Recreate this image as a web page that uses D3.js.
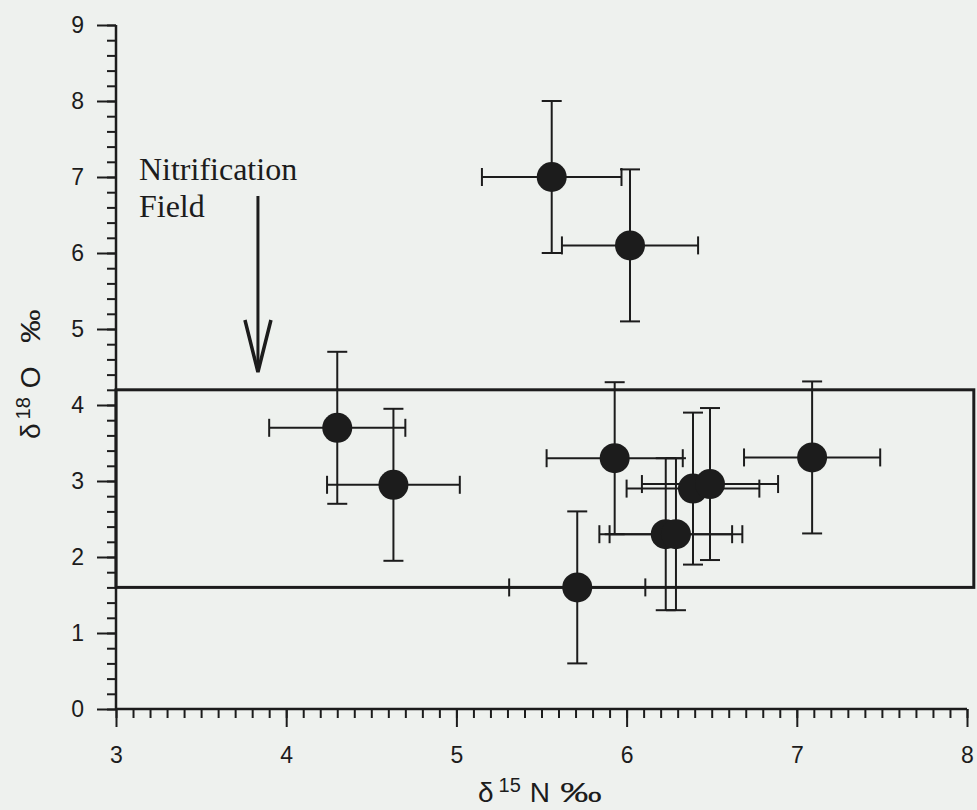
<!DOCTYPE html>
<html>
<head>
<meta charset="utf-8">
<script src="https://cdn.jsdelivr.net/npm/d3@7"></script>
<style>
  html, body { margin: 0; padding: 0; background: #eef1ee; }
  svg { display: block; }
</style>
</head>
<body>
<svg id="chart" width="977" height="810"></svg>
<script>
// ---- data ----
const d15N  = [5.56, 6.02, 4.30, 4.63, 5.93, 6.23, 6.29, 6.39, 6.49, 7.09, 5.71];
const d18O  = [7.00, 6.10, 3.70, 2.95, 3.30, 2.30, 2.30, 2.90, 2.96, 3.31, 1.60];
const errN  = [0.41, 0.40, 0.40, 0.39, 0.40, 0.39, 0.39, 0.39, 0.40, 0.40, 0.40];
const errO  = [1.00, 1.00, 1.00, 1.00, 1.00, 1.00, 1.00, 1.00, 1.00, 1.00, 1.00];
const xTicks = [3, 4, 5, 6, 7, 8];
const yTicks = [0, 1, 2, 3, 4, 5, 6, 7, 8, 9];
const fieldN = [3, 8.04];     // nitrification field extent (δ15N)
const fieldO = [1.6, 4.2];    // nitrification field extent (δ18O)
const fieldLabel = ["Nitrification", "Field"];

// ---- layout ----
const ink = "#1c1c1c";
const svg = d3.select("#chart");
const x = d3.scaleLinear().domain([3, 8]).range([116, 967]);
const y = d3.scaleLinear().domain([0, 9]).range([709, 25]);

// nitrification field box
svg.append("rect")
  .attr("x", x(fieldN[0])).attr("y", y(fieldO[1]))
  .attr("width", x(fieldN[1]) - x(fieldN[0]))
  .attr("height", y(fieldO[0]) - y(fieldO[1]))
  .attr("fill", "none").attr("stroke", ink).attr("stroke-width", 3);

// axes
const fontAxis = "'Liberation Sans', Arial, sans-serif";
function styleAxis(g) {
  g.attr("font-size", 23).attr("font-family", fontAxis);
  g.select(".domain").remove();
  g.selectAll("line").attr("stroke", ink).attr("stroke-width", 2);
  g.selectAll("text").attr("fill", ink).attr("font-size", 23);
}
const xMinor = d3.range(30, 81).map(v => v / 10);
const yMinor = d3.range(0, 46).map(v => v / 5);

svg.append("g").attr("transform", "translate(0,709)")
  .call(d3.axisBottom(x).tickValues(xMinor).tickSize(9).tickFormat(""))
  .call(styleAxis);
svg.append("g").attr("transform", "translate(0,709)")
  .call(d3.axisBottom(x).tickValues(xTicks).tickSize(18).tickPadding(20).tickFormat(d3.format("d")))
  .call(styleAxis);
svg.append("g").attr("transform", "translate(116,0)")
  .call(d3.axisLeft(y).tickValues(yMinor).tickSize(9).tickFormat(""))
  .call(styleAxis);
svg.append("g").attr("transform", "translate(116,0)")
  .call(d3.axisLeft(y).tickValues(yTicks).tickSize(19).tickPadding(13).tickFormat(d3.format("d")))
  .call(styleAxis);

// axis lines
svg.append("line").attr("x1", 116).attr("x2", 967).attr("y1", 709).attr("y2", 709)
  .attr("stroke", ink).attr("stroke-width", 2.5);
svg.append("line").attr("x1", 116).attr("x2", 116).attr("y1", y(9)).attr("y2", 709)
  .attr("stroke", ink).attr("stroke-width", 2.5);

// axis titles
function title(g, sup, letter, dxSup, dxLetter, perAt, perScale) {
  const t = g.append("text").attr("x", 0).attr("y", 0).attr("fill", ink)
    .attr("font-family", fontAxis).attr("font-size", 28);
  t.append("tspan").text("δ");
  t.append("tspan").attr("dx", dxSup).attr("dy", -10).attr("font-size", 20).text(sup);
  t.append("tspan").attr("dx", dxLetter).attr("dy", 10).text(letter);
  g.append("text").attr("transform", `translate(${perAt},0) scale(${perScale},1)`)
    .attr("fill", ink).attr("font-family", fontAxis).attr("font-size", 28).text("‰");
}
const gx = svg.append("g").attr("transform", "translate(478,802)");
title(gx, "15", "N", 5, 9, 82, 1.5);
const gy = svg.append("g").attr("transform", "translate(40,439) rotate(-90)");
title(gy, "18", "O", 4, 9, 96, 1.2);

// annotation
const ann = svg.append("text").attr("x", x(3.135)).attr("y", y(6.96))
  .attr("fill", ink).attr("font-family", "'Liberation Serif', 'Times New Roman', serif")
  .attr("font-size", 32);
fieldLabel.forEach((t, i) => ann.append("tspan").attr("x", x(3.135)).attr("dy", i ? 37 : 0).text(t));

const ax = x(3.834);
svg.append("line").attr("x1", ax).attr("x2", ax).attr("y1", 196).attr("y2", 368)
  .attr("stroke", ink).attr("stroke-width", 3);
svg.append("path")
  .attr("d", `M${ax - 13},320 L${ax},372 L${ax + 13},320`)
  .attr("fill", "none").attr("stroke", ink).attr("stroke-width", 3.5).attr("stroke-linejoin", "miter");

// error bars & points
const pts = d15N.map((n, i) => ({ n, o: d18O[i], en: errN[i], eo: errO[i] }));
const eb = svg.append("g").attr("stroke", ink).attr("stroke-width", 2).attr("fill", "none");
pts.forEach(p => {
  const cx = x(p.n), cy = y(p.o);
  const x0 = x(p.n - p.en), x1 = x(p.n + p.en);
  const y0 = y(p.o - p.eo), y1 = y(p.o + p.eo);
  eb.append("line").attr("x1", x0).attr("x2", x1).attr("y1", cy).attr("y2", cy);
  eb.append("line").attr("x1", cx).attr("x2", cx).attr("y1", y0).attr("y2", y1);
  eb.append("line").attr("x1", x0).attr("x2", x0).attr("y1", cy - 9).attr("y2", cy + 9);
  eb.append("line").attr("x1", x1).attr("x2", x1).attr("y1", cy - 9).attr("y2", cy + 9);
  eb.append("line").attr("x1", cx - 10).attr("x2", cx + 10).attr("y1", y0).attr("y2", y0);
  eb.append("line").attr("x1", cx - 10).attr("x2", cx + 10).attr("y1", y1).attr("y2", y1);
});
svg.append("g").selectAll("circle").data(pts).join("circle")
  .attr("cx", d => x(d.n)).attr("cy", d => y(d.o)).attr("r", 15)
  .attr("fill", ink);
</script>
</body>
</html>
